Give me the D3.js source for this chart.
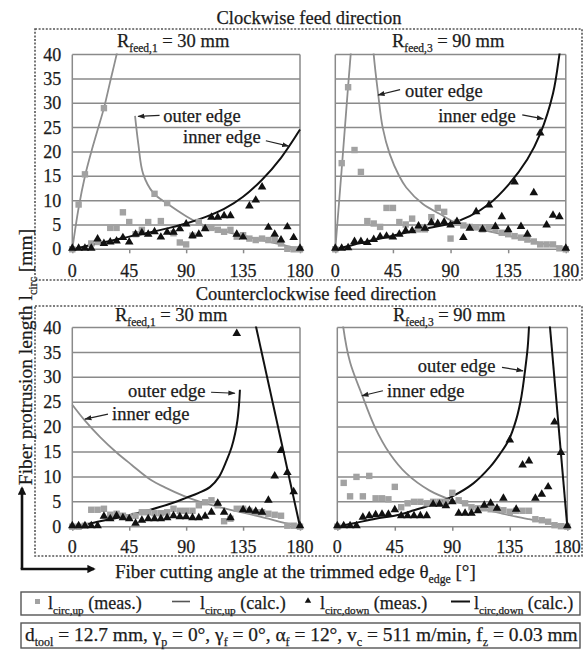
<!DOCTYPE html>
<html>
<head>
<meta charset="utf-8">
<script src="https://cdn.jsdelivr.net/npm/d3@7"></script>
<style>
  body { margin: 0; background: #fff; }
  text { font-family: "Liberation Serif", "Times New Roman", serif; fill: #1b1b1b; stroke: #1b1b1b; stroke-width: 0.25px; }
</style>
</head>
<body>
<div id="chart"></div>
<script>
// fiber cutting angle at the trimmed edge [deg]
const angles = [0,5,10,15,20,25,30,35,40,45,50,55,60,65,70,75,80,85,90,95,100,105,110,115,120,125,130,135,140,145,150,155,160,165,170,175,180];
const xTicks = [0,45,90,135,180];
const yTicks = [0,5,10,15,20,25,30,35,40];

// clockwise, R_feed,1 = 30 mm
const cw30UpMeas   = [0,9.2,15.4,1.2,1.5,29,4.4,4.4,7.6,5.6,3.1,4.0,5.6,11.4,5.8,9.5,3.3,1.4,1.0,2.8,5.6,4.5,4.4,4.0,3.6,4.0,2.6,2.9,2.2,1.9,2.2,1.9,1.9,1.2,0.1,0,0];
const cw30DownMeas = [0,0,0,0,1.9,1.0,1.3,1.5,2.2,1.3,2.9,3.2,2.9,3.4,2.3,3.3,3.3,4.0,5.0,2.6,2.9,4.0,6.4,6.4,6.7,6.7,2.9,2.3,8.7,9.9,12.6,4.3,2.9,1.7,4.4,2.2,0];
const cw30UpCalcA  = [[0,0],[5,8.5],[10,15],[15,20],[20,24.5],[25,29],[30,34.5],[35,40],[37,42.5]];
const cw30UpCalcB  = [[49.6,27.4],[52.2,21.6],[56,15.5],[64,11.6],[75,9.4],[90,6.8],[100,5.4],[110,4.4],[120,3.7],[135,2.8],[150,1.9],[165,1.0],[175,0.3],[180,0]];
const cw30DownCalc = [[0,0],[15,0.9],[30,1.7],[45,2.6],[60,3.4],[75,4.3],[90,5.3],[105,6.6],[120,8.3],[135,10.8],[150,14.3],[165,18.8],[180,24.6]];

// clockwise, R_feed,3 = 90 mm
const cw90UpMeas   = [0,17.7,33.3,20.4,15.9,5.8,5.3,4.6,8.5,8.5,5.6,5.1,6.3,4.1,4.1,6.6,8.5,7.7,2.2,5.5,4.9,4.6,4.5,4.1,4.5,4.1,3.4,3.1,2.7,2.4,2.0,1.6,1.0,1.0,1.0,0.2,0];
const cw90DownMeas = [0,0,0.1,1.4,1.4,1.2,1.8,2.4,2.5,2.3,2.9,3.6,3.6,4.6,4.1,5.3,5.1,5.4,4.8,5.5,2.2,4.1,7.5,3.9,8.9,4.5,6.5,3.8,13.6,4.5,2.9,11.4,23.7,4.8,6.8,6.5,0];
const cw90UpCalcA  = [[0,0],[5,16.5],[10,33.5],[12,40],[12.6,42]];
const cw90UpCalcB  = [[29.5,42],[30,40],[33.5,31.8],[37,25],[42.6,19.5],[50,15],[55.4,12.7],[68.4,9.3],[81.4,7.3],[92,5.7],[100,5.0],[110,4.3],[120,3.7],[135,2.8],[150,1.9],[165,1.0],[175,0.4],[180,0]];
const cw90DownCalc = [[0,0],[15,1.0],[30,1.9],[45,2.8],[60,3.7],[75,4.5],[90,5.3],[105,6.8],[120,9.3],[135,13.2],[150,18.5],[160,23.7],[170,32],[175,40],[176,42]];

// counterclockwise, R_feed,1 = 30 mm
const ccw30UpMeas   = [0,0,0.2,3.4,3.4,3.6,2.4,2.6,2.2,1.9,2.2,2.9,2.9,2.7,2.7,2.9,3.6,3.2,3.2,3.2,4.3,4.9,5.3,4.3,1.1,1.6,3.6,3.6,3.2,2.9,2.9,2.6,2.4,2.2,0.2,0.2,0];
const ccw30DownMeas = [0,0,0,0,0,1.9,1.4,2.0,1.6,1.4,0.5,1.1,1.4,1.4,1.4,1.6,2.0,1.8,1.8,1.6,1.6,1.9,2.7,4.5,2.7,1.6,38.6,3.2,3.1,2.9,2.7,5.1,10.0,15.1,10.7,6.8,0];
const ccw30UpCalc    = [[0,24.5],[10,21.3],[22,18.0],[35,14.9],[47,12.4],[61,9.6],[74,7.8],[88,6.2],[100,5.1],[114,4.1],[125,3.4],[142,2.4],[155,1.6],[165,0.9],[180,0]];
const ccw30DownCalcA = [[0,0],[15,0.7],[30,1.5],[45,2.3],[60,3.3],[75,4.4],[90,5.8],[100,6.8],[109,8.0],[116,10],[122,13.3],[126,16],[128.7,18.7],[130.5,21.3],[131.8,24.5],[132.5,27.5]];
const ccw30DownCalcB = [[144.5,41],[180,0]];

// counterclockwise, R_feed,3 = 90 mm
const ccw90UpMeas   = [0,8.8,6.1,10.0,6.1,10.2,5.7,5.7,5.5,8.0,3.9,4.7,5.0,5.0,4.7,5.0,5.0,5.0,6.8,5.3,4.7,3.9,3.7,3.7,3.5,3.5,3.3,3.0,3.2,3.2,3.2,1.5,1.3,1.0,0.3,0.1,0];
const ccw90DownMeas = [0,0,0,0,1.7,2.0,2.2,2.3,2.3,3.2,2.0,2.0,2.0,2.0,2.0,4.3,4.3,4.0,4.8,2.5,2.5,2.5,3.0,4.1,4.5,3.5,5.5,17.2,3.3,12.2,13.0,5.5,6.3,7.8,20.8,14.7,0];
const ccw90UpCalc    = [[4,42],[4.7,40],[10,33],[19,26.7],[29.4,20],[41,14.7],[54,10.7],[72,7.3],[90,5.3],[105,4.2],[117,3.4],[130,2.6],[140,2.0],[150,1.5],[161,1.0],[170,0.5],[180,0]];
const ccw90DownCalcA = [[0,0],[15,0.8],[30,1.6],[46.5,2.3],[60,3.3],[72.6,4.3],[90,6.1],[106.5,8.7],[119.6,12],[127,14.5],[134,17.3],[140,21.5],[144,26],[147,31.5],[149,36],[150,40],[150.4,42]];
const ccw90DownCalcB = [[165.8,42],[180,0]];

const W = 586, H = 655;
const grayMark = "#a2a2a2", grayLine = "#8e8e8e", gridCol = "#8a8a8a", black = "#111";

const svg = d3.select("#chart").append("svg")
    .attr("width", W)
    .attr("height", H);

const defs = svg.append("defs");
defs.append("marker")
    .attr("id", "tip")
    .attr("viewBox", "0 0 10 10")
    .attr("refX", 9).attr("refY", 5)
    .attr("markerWidth", 6).attr("markerHeight", 6)
    .attr("orient", "auto")
    .append("path").attr("d", "M0,1.5 L10,5 L0,8.5 Z").attr("fill", "#222");
defs.append("marker")
    .attr("id", "bigtip")
    .attr("viewBox", "0 0 10 10")
    .attr("refX", 8).attr("refY", 5)
    .attr("markerWidth", 3.2).attr("markerHeight", 3.2)
    .attr("orient", "auto")
    .append("path").attr("d", "M0,0 L10,5 L0,10 Z").attr("fill", "#111");

// text with subscripts: parts = [[string, isSub], ...]
function richText(g, x, y, parts, size, anchor) {
    let t = g.append("text")
        .attr("x", x).attr("y", y)
        .attr("font-size", size)
        .attr("text-anchor", anchor || "start");
    let down = false;
    parts.forEach(p => {
        let s = t.append("tspan").text(p[0]);
        if (p[1] && !down) { s.attr("dy", size * 0.28).attr("font-size", size * 0.62); down = true; }
        else if (p[1]) { s.attr("font-size", size * 0.62); }
        else if (down) { s.attr("dy", -size * 0.28); down = false; }
    });
    return t;
}

// section boxes + titles
function section(y0, y1, title, ty, tx) {
    svg.append("rect")
        .attr("x", 35).attr("y", y0)
        .attr("width", 547).attr("height", y1 - y0)
        .attr("fill", "none")
        .attr("stroke", "#555")
        .attr("stroke-width", 1.6)
        .attr("stroke-dasharray", "2,1.6");
    svg.append("text")
        .attr("x", tx).attr("y", ty)
        .attr("text-anchor", "middle")
        .attr("font-size", 18.5)
        .text(title);
}
section(29, 280, "Clockwise feed direction", 24, 309);
section(306, 556, "Counterclockwise feed direction", 300, 316);

const panels = [
    { key: "cw30", left: 72.3, right: 300, top: 54.6, bottom: 249.3, yLabels: true, labelY: 277,
      title: ["R", "feed,1", " = 30 mm"], titleX: 117, titleY: 47,
      up: cw30UpMeas, down: cw30DownMeas, upCalc: [cw30UpCalcA, cw30UpCalcB], downCalc: [cw30DownCalc],
      notes: [
        { text: "outer edge", at: [71.8, 26.2], from: [69, 27.5], to: [52, 27.3] },
        { text: "inner edge", at: [87.6, 21.9], from: [153, 22.3], to: [171, 21.2] }
      ] },
    { key: "cw90", left: 335.3, right: 565.8, top: 54.6, bottom: 249.3, yLabels: false, labelY: 277,
      title: ["R", "feed,3", " = 90 mm"], titleX: 392, titleY: 47,
      up: cw90UpMeas, down: cw90DownMeas, upCalc: [cw90UpCalcA, cw90UpCalcB], downCalc: [cw90DownCalc],
      notes: [
        { text: "outer edge", at: [54.5, 31.3], from: [50.6, 32.8], to: [33.4, 31.7] },
        { text: "inner edge", at: [80.3, 26.2], from: [146, 27.6], to: [162.4, 26.8] }
      ] },
    { key: "ccw30", left: 72.3, right: 300, top: 327.5, bottom: 526.7, yLabels: true, labelY: 553,
      title: ["R", "feed,1", " = 30 mm"], titleX: 115, titleY: 321,
      up: ccw30UpMeas, down: ccw30DownMeas, upCalc: [ccw30UpCalc], downCalc: [ccw30DownCalcA, ccw30DownCalcB],
      notes: [
        { text: "outer edge", at: [44, 26], from: [109.7, 27], to: [128.5, 26.8] },
        { text: "inner edge", at: [31.4, 21.4], from: [28.2, 22.6], to: [10, 21.6] }
      ] },
    { key: "ccw90", left: 337.3, right: 567.3, top: 327.5, bottom: 526.7, yLabels: false, labelY: 553,
      title: ["R", "feed,3", " = 90 mm"], titleX: 393, titleY: 321,
      up: ccw90UpMeas, down: ccw90DownMeas, upCalc: [ccw90UpCalc], downCalc: [ccw90DownCalcA, ccw90DownCalcB],
      notes: [
        { text: "outer edge", at: [63, 31], from: [128.9, 32], to: [145.3, 31.3] },
        { text: "inner edge", at: [38.9, 26], from: [35.7, 27.3], to: [19.3, 26.3] }
      ] }
];

const triangle = d3.symbol().type(d3.symbolTriangle).size(32);

panels.forEach(p => {
    const x = d3.scaleLinear().domain([0, 180]).range([p.left, p.right]);
    const y = d3.scaleLinear().domain([0, 40]).range([p.bottom, p.top]);
    const g = svg.append("g").attr("class", "panel " + p.key);

    // grid
    g.selectAll(".grid").data(yTicks).enter().append("line")
        .attr("x1", p.left).attr("x2", p.right)
        .attr("y1", d => y(d)).attr("y2", d => y(d))
        .attr("stroke", gridCol).attr("stroke-width", 1.5);
    g.selectAll(".vb").data([0, 180]).enter().append("line")
        .attr("x1", d => x(d)).attr("x2", d => x(d))
        .attr("y1", p.top).attr("y2", p.bottom)
        .attr("stroke", gridCol).attr("stroke-width", 1.5);

    // x axis
    const xAxis = d3.axisBottom(x).tickValues(xTicks).tickSize(4).tickFormat("");
    const ax = g.append("g").attr("transform", `translate(0,${p.bottom})`).call(xAxis);
    ax.select(".domain").remove();
    ax.selectAll("line").attr("stroke", gridCol).attr("stroke-width", 1.5);
    g.selectAll(".xl").data(xTicks).enter().append("text")
        .attr("x", d => x(d)).attr("y", p.labelY)
        .attr("text-anchor", "middle")
        .attr("font-size", 18)
        .text(d => d);

    if (p.yLabels) {
        g.selectAll(".yl").data(yTicks).enter().append("text")
            .attr("x", p.left - 11).attr("y", d => y(d))
            .attr("dy", "0.34em")
            .attr("text-anchor", "end")
            .attr("font-size", 18)
            .text(d => d);
    }

    // curves, clipped to plot area
    const clipId = "clip-" + p.key;
    defs.append("clipPath").attr("id", clipId).append("rect")
        .attr("x", p.left - 2).attr("y", p.top - 1)
        .attr("width", p.right - p.left + 4).attr("height", p.bottom - p.top + 4);
    const curves = g.append("g").attr("clip-path", `url(#${clipId})`);
    const line = d3.line().x(d => x(d[0])).y(d => y(d[1])).curve(d3.curveCatmullRom.alpha(0.5));
    p.upCalc.forEach(c => curves.append("path").attr("d", line(c))
        .attr("fill", "none").attr("stroke", grayLine).attr("stroke-width", 1.8));
    p.downCalc.forEach(c => curves.append("path").attr("d", line(c))
        .attr("fill", "none").attr("stroke", black).attr("stroke-width", 2));

    // measured points
    g.selectAll(".sq").data(angles).enter().append("rect")
        .attr("x", (d, i) => x(d) - 3.2).attr("y", (d, i) => y(p.up[i]) - 3.2)
        .attr("width", 6.4).attr("height", 6.4)
        .attr("fill", grayMark);
    g.selectAll(".tri").data(angles).enter().append("path")
        .attr("d", triangle)
        .attr("transform", (d, i) => `translate(${x(d)},${y(p.down[i]) - 1})`)
        .attr("fill", black);

    // panel title
    richText(g, p.titleX, p.titleY, [[p.title[0], 0], [p.title[1], 1], [p.title[2], 0]], 18.5);

    // edge annotations
    p.notes.forEach(n => {
        g.append("text")
            .attr("x", x(n.at[0])).attr("y", y(n.at[1]))
            .attr("font-size", 18.5)
            .text(n.text);
        g.append("line")
            .attr("x1", x(n.from[0])).attr("y1", y(n.from[1]))
            .attr("x2", x(n.to[0])).attr("y2", y(n.to[1]))
            .attr("stroke", "#222").attr("stroke-width", 1.2)
            .attr("marker-end", "url(#tip)");
    });
});

// axis titles with the L-shaped arrow
svg.append("path")
    .attr("d", "M22,569 L22,488")
    .attr("stroke", black).attr("stroke-width", 2.6).attr("fill", "none")
    .attr("marker-end", "url(#bigtip)");
svg.append("path")
    .attr("d", "M20.7,569 L94,569")
    .attr("stroke", black).attr("stroke-width", 2.6).attr("fill", "none")
    .attr("marker-end", "url(#bigtip)");

richText(svg, 115, 578,
    [["Fiber cutting angle at the trimmed edge θ", 0], ["edge", 1], [" [°]", 0]], 19);

richText(svg.append("g").attr("transform", "translate(32,357) rotate(-90)"), 0, 0,
    [["Fiber protrusion length l", 0], ["circ", 1], [" [mm]", 0]], 19.5, "middle");

// legend
svg.append("rect").attr("x", 21).attr("y", 592).attr("width", 559).attr("height", 23)
    .attr("fill", "none").attr("stroke", "#555").attr("stroke-width", 1.4);
svg.append("rect").attr("x", 21).attr("y", 623).attr("width", 559).attr("height", 25)
    .attr("fill", "none").attr("stroke", "#555").attr("stroke-width", 1.4);

const lg = svg.append("g");
lg.append("rect").attr("x", 35).attr("y", 599).attr("width", 5).attr("height", 5).attr("fill", grayMark);
richText(lg, 48, 609, [["l", 0], ["circ,up", 1], [" (meas.)", 0]], 18);
lg.append("line").attr("x1", 172).attr("x2", 190).attr("y1", 601.5).attr("y2", 601.5)
    .attr("stroke", "#555").attr("stroke-width", 1.6);
richText(lg, 200, 609, [["l", 0], ["circ,up", 1], [" (calc.)", 0]], 18);
lg.append("path").attr("d", d3.symbol().type(d3.symbolTriangle).size(18))
    .attr("transform", "translate(308,601)").attr("fill", black);
richText(lg, 320, 609, [["l", 0], ["circ,down", 1], [" (meas.)", 0]], 18);
lg.append("line").attr("x1", 451).attr("x2", 470).attr("y1", 601.5).attr("y2", 601.5)
    .attr("stroke", black).attr("stroke-width", 2);
richText(lg, 474, 609, [["l", 0], ["circ,down", 1], [" (calc.)", 0]], 18);

richText(lg, 25, 641, [
    ["d", 0], ["tool", 1], [" = 12.7 mm, γ", 0], ["p", 1], [" = 0°, γ", 0], ["f", 1],
    [" = 0°, α", 0], ["f", 1], [" = 12°, v", 0], ["c", 1], [" = 511 m/min, f", 0], ["z", 1], [" = 0.03 mm", 0]
], 19.4);
</script>
</body>
</html>
